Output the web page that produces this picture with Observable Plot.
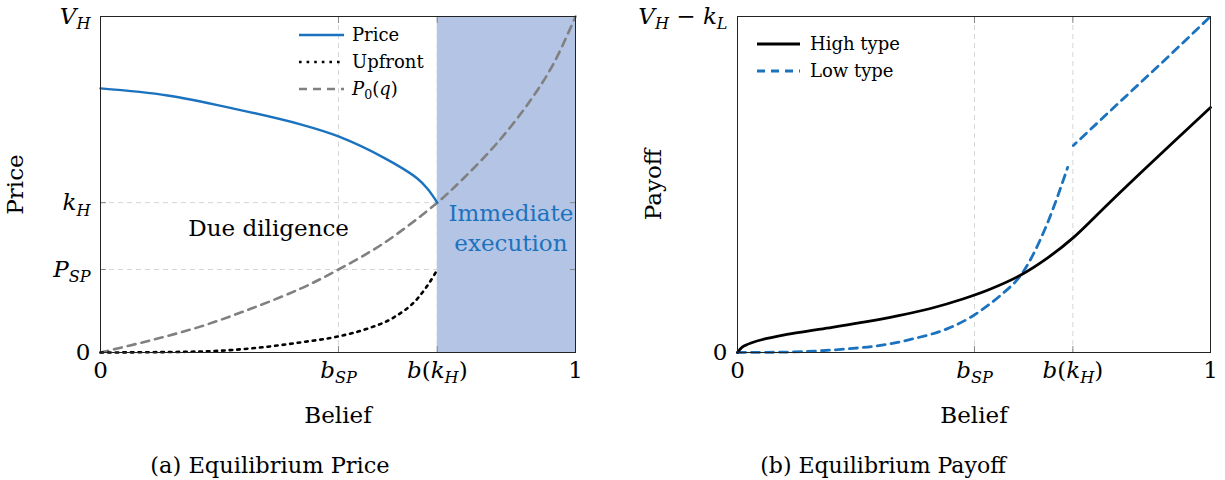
<!DOCTYPE html>
<html>
<head>
<meta charset="utf-8">
<script src="https://cdn.jsdelivr.net/npm/d3@7"></script>
<script src="https://cdn.jsdelivr.net/npm/@observablehq/plot@0.6"></script>
<style>
  html, body { margin: 0; padding: 0; background: #fff; }
  #wrap { position: relative; width: 1225px; height: 480px; display: flex; flex-direction: row; }
  #wrap svg { display: block; flex: none; }
</style>
</head>
<body>
<div id="wrap"></div>
<script>
// ---------------- data ----------------
const xTickValues = [0, 0.501, 0.709, 1];
const xTickLabels = ["0", "b_{SP}", "b(k_H)", "1"];
const yTickValuesA = [0, 0.247, 0.446, 1];
const yTickLabelsA = ["0", "P_{SP}", "k_H", "V_H"];
const yTickValuesB = [0, 1];
const yTickLabelsB = ["0", "V_H − k_L"];

// Panel (a): equilibrium price
const beliefPrice = [0, 0.141, 0.28, 0.421, 0.501, 0.596, 0.667, 0.688, 0.709];
const price       = [0.786, 0.765, 0.726, 0.679, 0.643, 0.580, 0.518, 0.488, 0.446];

const beliefUpfront = [0, 0.07, 0.21, 0.316, 0.421, 0.501, 0.562, 0.617, 0.667, 0.703, 0.709];
const upfront       = [0, 0.0005, 0.003, 0.012, 0.03, 0.048, 0.071, 0.104, 0.16, 0.232, 0.247];

const beliefP0 = [0, 0.105, 0.21, 0.316, 0.421, 0.501, 0.596, 0.709, 0.764, 0.836, 0.905, 0.954, 1];
const p0       = [0, 0.036, 0.077, 0.130, 0.190, 0.247, 0.325, 0.446, 0.518, 0.625, 0.750, 0.860, 1.0];

// Panel (b): equilibrium payoff
const beliefHigh = [0, 0.01, 0.03, 0.06, 0.127, 0.2, 0.27, 0.338, 0.408, 0.478, 0.535, 0.598, 0.655, 0.71, 0.782, 0.852, 1];
const highType   = [0, 0.016, 0.029, 0.041, 0.059, 0.075, 0.091, 0.109, 0.131, 0.160, 0.189, 0.230, 0.281, 0.342, 0.440, 0.534, 0.729];

const beliefLow = [0, 0.091, 0.161, 0.233, 0.302, 0.372, 0.444, 0.493, 0.535, 0.556, 0.603, 0.655, 0.698, 0.71, 0.8, 0.9, 1];
const lowType   = [0, 0.001, 0.004, 0.011, 0.021, 0.041, 0.071, 0.105, 0.146, 0.17, 0.238, 0.384, 0.551, 0.616, 0.735, 0.866, 1.0];

const annotationsA = [
  {label: "Due diligence", x: 0.354, y: 0.375, color: "#000"},
  {label: "Immediate\nexecution", x: 0.864, y: 0.375, color: "#1b72be"}
];
const legendA = [
  {label: "Price", stroke: "#1b72be", dash: null, width: 2.4},
  {label: "Upfront", stroke: "#000", dash: "2.6,5", width: 2.6},
  {label: "P_0(q)", stroke: "#808080", dash: "8,6", width: 2.6}
];
const legendB = [
  {label: "High type", stroke: "#000", dash: null, width: 2.8},
  {label: "Low type", stroke: "#1b72be", dash: "8,6", width: 2.8}
];

// ---------------- helpers ----------------
const BLUE = "#1b72be";
const SHADE = "#b4c4e4";
const GRID = "#d6d6d6";
const FONT = "DejaVu Serif";
const FS = 23;
const kink = xTickValues[2];

const pts = (xs, ys) => xs.map((x, i) => ({x, y: ys[i]}));
const fmt = (vals, labels) => d => { const i = vals.indexOf(d); return i < 0 ? "" : labels[i]; };

const NS = "http://www.w3.org/2000/svg";
function texify(el, fs) {
  const s = el.textContent;
  if (!/[A-Za-z]/.test(s)) return;
  while (el.firstChild) el.removeChild(el.firstChild);
  const sh = fs * 0.24;
  let cur = 0;
  const add = (txt, sub) => {
    const t = document.createElementNS(NS, "tspan");
    t.textContent = txt;
    if (/[A-Za-z]/.test(txt)) t.setAttribute("font-style", "italic");
    if (sub) t.setAttribute("font-size", (fs * 0.7).toFixed(1));
    const want = sub ? sh : 0;
    if (want !== cur) t.setAttribute("dy", (want - cur).toFixed(2));
    cur = want;
    el.appendChild(t);
  };
  let i = 0;
  while (i < s.length) {
    const c = s[i];
    if (c === "_") {
      let sub;
      if (s[i + 1] === "{") { const j = s.indexOf("}", i); sub = s.slice(i + 2, j); i = j + 1; }
      else { sub = s[i + 1]; i += 2; }
      add(sub, true);
    } else {
      add(c, false);
      i += 1;
    }
  }
}

function axes(yVals, yLabels) {
  return [
    Plot.axisX({anchor: "bottom", ticks: xTickValues, tickFormat: fmt(xTickValues, xTickLabels),
      tickSize: -6, tickPadding: 15, stroke: "#888", label: null, fontSize: FS}),
    Plot.axisX({anchor: "top", ticks: xTickValues, tickFormat: () => "", tickSize: -6, stroke: "#888", label: null}),
    Plot.axisY({anchor: "left", ticks: yVals, tickFormat: fmt(yVals, yLabels),
      tickSize: -6, tickPadding: 16, stroke: "#888", label: null, fontSize: FS}),
    Plot.axisY({anchor: "right", ticks: yVals, tickFormat: () => "", tickSize: -6, stroke: "#888", label: null})
  ];
}

// ---------------- panel (a) ----------------
const plotA = Plot.plot({
  width: 612, height: 480,
  marginLeft: 100, marginRight: 37, marginTop: 16, marginBottom: 128,
  x: {domain: [0, 1]},
  y: {domain: [0, 1]},
  style: {fontFamily: FONT, fontSize: FS + "px", color: "#000", background: "transparent"},
  marks: [
    Plot.ruleX([xTickValues[1], xTickValues[2]], {stroke: GRID, strokeDasharray: "5,4"}),
    Plot.ruleY([yTickValuesA[1], yTickValuesA[2]], {stroke: GRID, strokeDasharray: "5,4"}),
    Plot.rect([{x1: xTickValues[2], x2: xTickValues[3]}], {x1: "x1", x2: "x2", fill: SHADE}),
    Plot.line(pts(beliefP0, p0), {x: "x", y: "y", stroke: "#808080", strokeWidth: 2.6, strokeDasharray: "8,6", curve: "catmull-rom"}),
    Plot.line(pts(beliefUpfront, upfront), {x: "x", y: "y", stroke: "#000", strokeWidth: 2.6, strokeDasharray: "2.6,5", curve: "monotone-x"}),
    Plot.line(pts(beliefPrice, price), {x: "x", y: "y", stroke: BLUE, strokeWidth: 2.4, curve: "catmull-rom"}),
    Plot.text(annotationsA, {x: "x", y: "y", text: "label", fill: "color", fontSize: FS, lineHeight: 1.3}),
    ...axes(yTickValuesA, yTickLabelsA),
    Plot.frame({stroke: "#222", strokeWidth: 1}),
    Plot.text(["Belief"], {frameAnchor: "bottom", dy: 63, lineAnchor: "middle", textAnchor: "middle", fontSize: FS}),
    Plot.text(["(a) Equilibrium Price"], {frameAnchor: "bottom", dx: -68, dy: 113, lineAnchor: "middle", textAnchor: "middle", fontSize: 22.5}),
    Plot.text(["Price"], {frameAnchor: "left", dx: -85, rotate: -90, lineAnchor: "middle", textAnchor: "middle", fontSize: FS})
  ]
});

// ---------------- panel (b) ----------------
const highPts = pts(beliefHigh, highType);
const lowPts = pts(beliefLow, lowType);
const plotB = Plot.plot({
  width: 613, height: 480,
  marginLeft: 125, marginRight: 15, marginTop: 16, marginBottom: 128,
  x: {domain: [0, 1]},
  y: {domain: [0, 1]},
  style: {fontFamily: FONT, fontSize: FS + "px", color: "#000", background: "transparent"},
  marks: [
    Plot.ruleX([xTickValues[1], xTickValues[2]], {stroke: GRID, strokeDasharray: "5,4"}),
    Plot.line(lowPts.filter(d => d.x <= kink), {x: "x", y: "y", stroke: BLUE, strokeWidth: 2.8, strokeDasharray: "8,6", curve: "monotone-x"}),
    Plot.line(lowPts.filter(d => d.x >= kink), {x: "x", y: "y", stroke: BLUE, strokeWidth: 2.8, strokeDasharray: "8,6", strokeDashoffset: 4, curve: "linear"}),
    Plot.line(highPts, {x: "x", y: "y", stroke: "#000", strokeWidth: 2.8, curve: "catmull-rom"}),
    ...axes(yTickValuesB, yTickLabelsB),
    Plot.frame({stroke: "#222", strokeWidth: 1}),
    Plot.text(["Belief"], {frameAnchor: "bottom", dy: 63, lineAnchor: "middle", textAnchor: "middle", fontSize: FS}),
    Plot.text(["(b) Equilibrium Payoff"], {frameAnchor: "bottom", dx: -91, dy: 113, lineAnchor: "middle", textAnchor: "middle", fontSize: 22}),
    Plot.text(["Payoff"], {frameAnchor: "left", dx: -84, rotate: -90, lineAnchor: "middle", textAnchor: "middle", fontSize: FS})
  ]
});

const wrap = document.getElementById("wrap");
wrap.appendChild(plotA);
wrap.appendChild(plotB);

for (const svg of [plotA, plotB]) {
  svg.querySelectorAll("text").forEach(t => { if (t.textContent.includes("_")) texify(t, FS); });
}

// ---------------- legends (overlay) ----------------
const ov = d3.select(wrap).append("svg")
  .attr("width", 1225).attr("height", 480)
  .style("position", "absolute").style("left", "0px").style("top", "0px")
  .style("pointer-events", "none");

function drawLegend(items, x0, x1, xt, y0, step, fs) {
  items.forEach((d, i) => {
    const y = y0 + i * step;
    ov.append("line").attr("x1", x0).attr("x2", x1).attr("y1", y).attr("y2", y)
      .attr("stroke", d.stroke).attr("stroke-width", d.width)
      .attr("stroke-dasharray", d.dash);
    const t = ov.append("text").attr("x", xt).attr("y", y).attr("dy", "0.33em")
      .attr("font-size", fs).attr("font-family", FONT).text(d.label);
    if (d.label.includes("_")) texify(t.node(), fs);
  });
}
drawLegend(legendA, 299, 344, 352, 35, 27, 18);
drawLegend(legendB, 757, 800, 810, 44, 27, 18);
</script>
</body>
</html>
